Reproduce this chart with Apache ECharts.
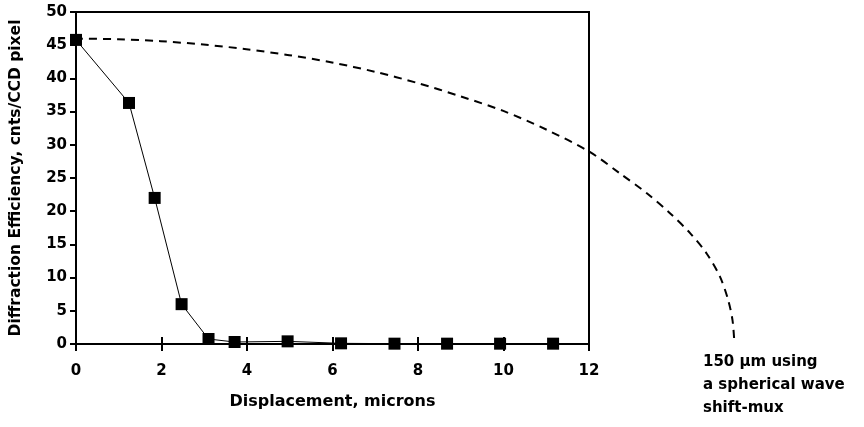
<!DOCTYPE html>
<html>
<head>
<meta charset="utf-8">
<script src="https://cdn.jsdelivr.net/npm/echarts@6/dist/echarts.min.js"></script>
<style>html,body{margin:0;padding:0;background:#fff}#c{width:864px;height:427px}</style>
</head>
<body>
<div id="c"></div>
<script>
// Measured series (squares)
const measuredX = [0, 1.24, 1.84, 2.47, 3.1, 3.71, 4.95, 6.2, 7.45, 8.68, 9.92, 11.16];
const measuredY = [45.8, 36.3, 22.0, 6.0, 0.75, 0.3, 0.4, 0.1, 0.05, 0.05, 0.05, 0.05];
// Dashed curve (150 um spherical wave shift-mux)
const curveX = [0, 1, 2, 3, 4, 5, 6, 7, 8, 9, 10, 11, 12, 12.72, 13.35, 13.89, 14.36, 14.75, 15.06, 15.25, 15.35, 15.39];
const curveY = [46.0, 45.9, 45.6, 45.1, 44.4, 43.5, 42.4, 41.0, 39.3, 37.3, 35.1, 32.3, 29.0, 25.7, 22.7, 19.7, 16.7, 13.6, 10.1, 6.6, 3.6, 0.6];
const xTicks = [0, 2, 4, 6, 8, 10, 12];
const yTicks = [0, 5, 10, 15, 20, 25, 30, 35, 40, 45, 50];
const xTitle = 'Displacement, microns';
const yTitle = 'Diffraction Efficiency, cnts/CCD pixel';
const noteLines = ['150 \u03bcm using', 'a spherical wave', 'shift-mux'];

const FONT = 'DejaVu Sans';
const W = 864, H = 427;
const gLeft = 75, gRight = 275, gTop = 12, gBottom = 83;
const xMax = xTicks[xTicks.length - 1];
const pxPerX = (W - gLeft - gRight) / xMax;
const extMax = 16; // extended (hidden) x range so the dashed curve can run past the frame
const extRight = W - gLeft - pxPerX * extMax;

const chart = echarts.init(document.getElementById('c'), null, {renderer: 'canvas'});
chart.setOption({
  animation: false,
  backgroundColor: '#ffffff',
  grid: [
    {left: gLeft, right: gRight, top: gTop, bottom: gBottom, show: true, borderColor: '#000', borderWidth: 2, backgroundColor: 'transparent'},
    {left: gLeft, right: extRight, top: gTop, bottom: gBottom, show: false}
  ],
  xAxis: [{
    gridIndex: 0, type: 'value', min: xTicks[0], max: xMax, interval: 2, position: 'bottom',
    name: xTitle, nameLocation: 'middle', nameGap: 50,
    nameTextStyle: {fontFamily: FONT, fontWeight: 'bold', fontSize: 16, color: '#000'},
    axisLine: {show: true, onZero: false, lineStyle: {color: '#000', width: 2}},
    axisTick: {show: true, inside: false, length: 7, lineStyle: {color: '#000', width: 2}},
    axisLabel: {margin: 20, fontFamily: FONT, fontWeight: 'bold', fontSize: 15, color: '#000'},
    splitLine: {show: false}
  }, {
    gridIndex: 0, type: 'value', min: xTicks[0], max: xMax, interval: 2, position: 'bottom',
    axisLine: {show: false},
    axisTick: {show: true, inside: true, length: 7, lineStyle: {color: '#000', width: 2}},
    axisLabel: {show: false},
    splitLine: {show: false}
  }, {
    gridIndex: 1, type: 'value', min: 0, max: extMax, show: false
  }],
  yAxis: [{
    gridIndex: 0, type: 'value', min: yTicks[0], max: yTicks[yTicks.length - 1], interval: 5,
    name: yTitle, nameLocation: 'middle', nameGap: 52, nameRotate: 90,
    nameTextStyle: {fontFamily: FONT, fontWeight: 'bold', fontSize: 15.5, color: '#000'},
    axisLine: {show: true, lineStyle: {color: '#000', width: 2}},
    axisTick: {show: true, length: 6, lineStyle: {color: '#000', width: 2}},
    axisLabel: {margin: 9, fontFamily: FONT, fontWeight: 'bold', fontSize: 15, color: '#000'},
    splitLine: {show: false}
  }, {
    gridIndex: 1, type: 'value', min: yTicks[0], max: yTicks[yTicks.length - 1], show: false
  }],
  series: [{
    type: 'line', xAxisIndex: 2, yAxisIndex: 1,
    data: curveX.map((x, i) => [x, curveY[i]]),
    showSymbol: false, symbol: 'none', smooth: 0.3, clip: false,
    lineStyle: {color: '#000', width: 2, type: [8, 6]}
  }, {
    type: 'line', xAxisIndex: 0, yAxisIndex: 0,
    data: measuredX.map((x, i) => [x, measuredY[i]]),
    symbol: 'rect', symbolSize: 12,
    itemStyle: {color: '#000'},
    lineStyle: {color: '#000', width: 1}
  }],
  graphic: noteLines.map((t, i) => ({
    type: 'text', left: 703, top: 355 + i * 23,
    style: {text: t, fontFamily: FONT, fontWeight: 'bold', fontSize: 15, fill: '#000'}
  }))
});
</script>
</body>
</html>
